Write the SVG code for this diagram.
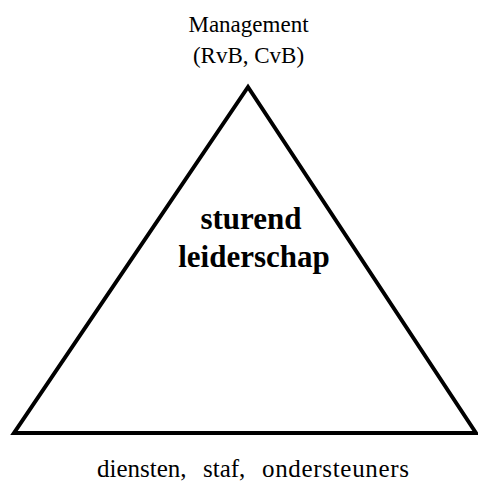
<svg xmlns="http://www.w3.org/2000/svg" width="478" height="483" viewBox="0 0 478 483">
<style>
text{font-family:"Liberation Serif","Times New Roman",serif;fill:#000}
.c{text-anchor:middle}
.n{font-size:23px}
.m{font-size:25px}
.b{font-size:31px;font-weight:bold}
</style>
<rect width="478" height="483" fill="#fff"/>
<g id="triangle">
<polygon points="248,87 14,433 476,433" fill="none" stroke="#000" stroke-width="4" stroke-linejoin="miter"/>
</g>
<g id="top-label">
<text class="n c" x="248.5" y="32">Management</text>
<text class="n c" x="248.5" y="63">(RvB, CvB)</text>
</g>
<g id="center-label">
<text class="b c" x="251" y="229">sturend</text>
<text class="b c" x="254" y="267">leiderschap</text>
</g>
<g id="bottom-label">
<text class="m" y="477"><tspan x="97">diensten,</tspan><tspan x="203">staf,</tspan><tspan x="262" textLength="147" lengthAdjust="spacing">ondersteuners</tspan></text>
</g>
</svg>
